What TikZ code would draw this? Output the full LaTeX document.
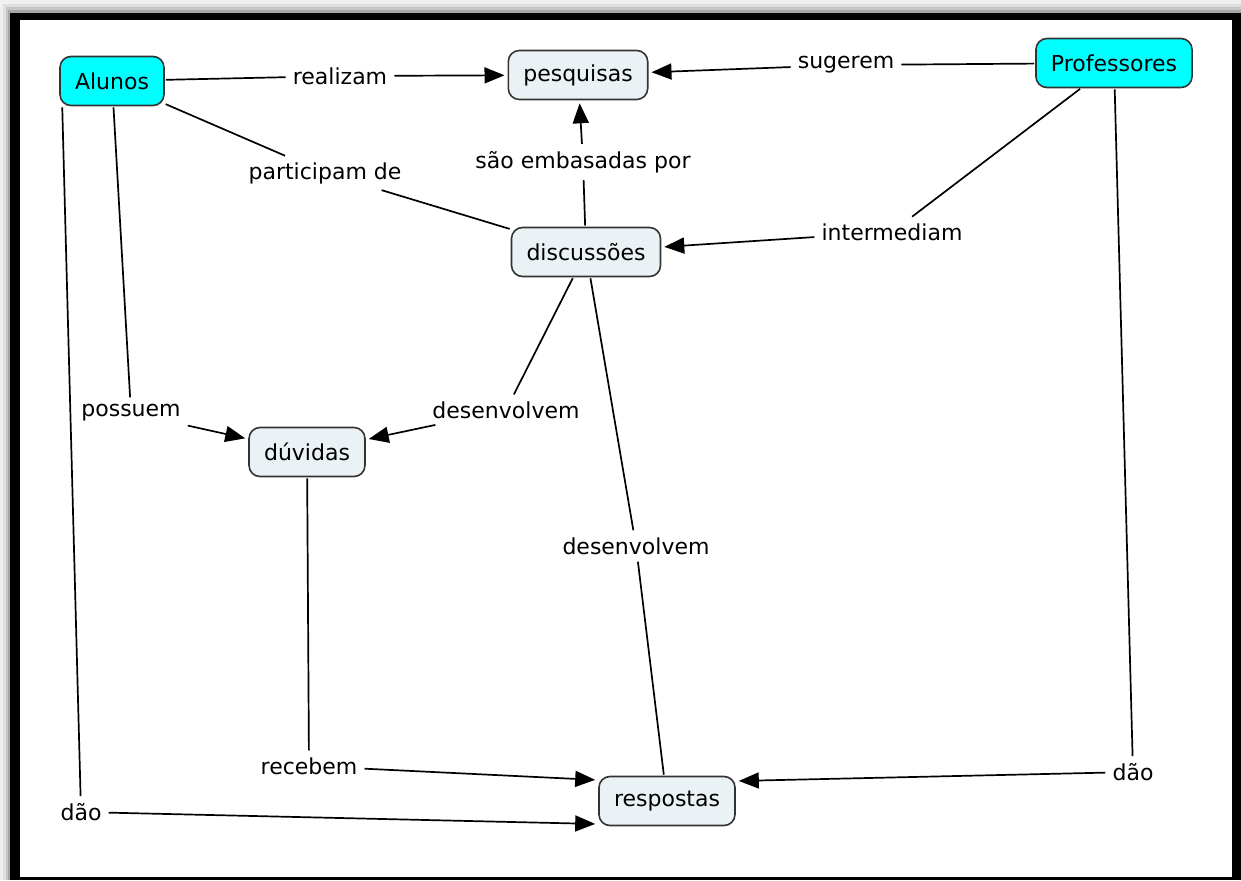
\documentclass[tikz,border=0pt]{standalone}
\usepackage{fontspec}
\setmainfont{DejaVu Sans}
\usetikzlibrary{arrows.meta}
\definecolor{boxfill}{HTML}{EBF2F5}
\definecolor{boxcyan}{HTML}{00FFFF}
\definecolor{boxline}{HTML}{333333}
\tikzset{
  concept/.style={draw=boxline, line width=1.6pt, rounded corners=11pt, fill=boxfill,
    minimum height=49pt, inner xsep=15pt, font=\fontsize{22}{26}\selectfont},
  actor/.style={concept, fill=boxcyan},
  link/.style={inner sep=6pt, font=\fontsize{22}{26}\selectfont},
  con/.style={line width=1.7pt, shorten <=1pt, shorten >=1pt},
  arr/.style={con, -{Triangle[length=20pt,width=16pt]}, shorten >=3pt},
}
\begin{document}
\begin{tikzpicture}[x=1pt,y=-1pt]
\useasboundingbox (0,0) rectangle (1241,880);
% frame with shadow
\fill[white] (0,0) rectangle (1241,880);
\fill[gray!12] (0,0) rectangle (1241,880);
\fill[gray!25] (3,4) rectangle (1241,880);
\fill[gray!45] (6,7) rectangle (1241,880);
\fill[gray!70] (8,10) rectangle (1241,880);
\fill[black] (10,13) rectangle (1241,880);
\fill[white] (20,20) rectangle (1232,877);

% concepts
\node[actor]   (alunos) at (112,81) {Alunos};
\node[concept] (pesq)   at (578,75) {pesquisas};
\node[actor]   (prof)   at (1114,63) {Professores};
\node[concept] (disc)   at (586,252) {discussões};
\node[concept] (duv)    at (307,452) {dúvidas};
\node[concept] (resp)   at (667,801) {respostas};

% linking phrases
\node[link] (realizam) at (340,76) {realizam};
\node[link] (sugerem)  at (846,65) {sugerem};
\node[link] (particip) at (325,173) {participam de};
\node[link] (embas)    at (583,162) {são embasadas por};
\node[link] (interm)   at (892,232) {intermediam};
\node[link] (possuem)  at (131,413) {possuem};
\node[link] (desenvA)  at (506,410) {desenvolvem};
\node[link] (desenvB)  at (636,546) {desenvolvem};
\node[link] (recebem)  at (309,766) {recebem};
\node[link] (daoA)     at (81,812) {dão};
\node[link] (daoB)     at (1133,772) {dão};

% connectors
\draw[con] (alunos) -- (realizam);
\draw[arr] (realizam) -- (pesq);
\draw[con] (prof) -- (sugerem);
\draw[arr] (sugerem) -- (pesq);
\draw[con] (alunos) -- (particip);
\draw[con] (particip) -- (disc);
\draw[con] (disc) -- (embas);
\draw[arr] (embas) -- (pesq);
\draw[con] (prof) -- (interm);
\draw[arr] (interm) -- (disc);
\draw[con] (alunos) -- (possuem);
\draw[arr] (possuem) -- (duv);
\draw[con] (disc) -- (desenvA);
\draw[arr] (desenvA) -- (duv);
\draw[con] (disc) -- (desenvB);
\draw[con] (desenvB) -- (resp);
\draw[con] (duv) -- (recebem);
\draw[arr] (recebem) -- ([yshift=21pt]resp.west);
\draw[con] ([xshift=3pt]alunos.south west) -- (daoA);
\draw[arr] (daoA) -- ([yshift=-23pt]resp.west);
\draw[con] (prof) -- (daoB);
\draw[arr] (daoB) -- ([yshift=20pt]resp.east);
\end{tikzpicture}
\end{document}
